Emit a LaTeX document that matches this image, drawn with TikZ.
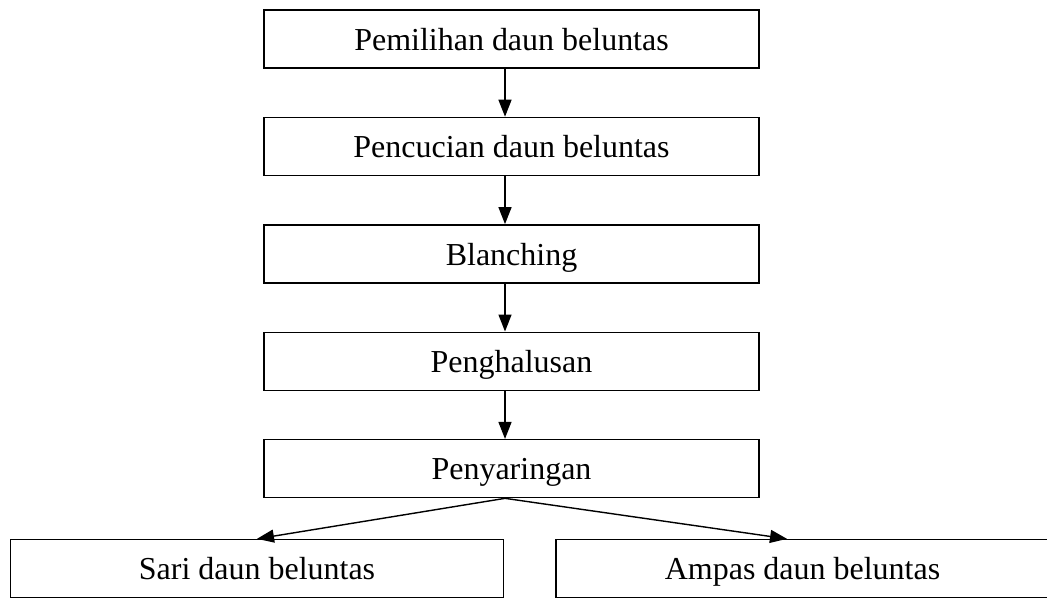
\documentclass[tikz,border=0pt]{standalone}
\usepackage{fontspec}
\setmainfont{Liberation Serif}
\usetikzlibrary{positioning,arrows.meta}

\begin{document}
\begin{tikzpicture}[
		every node/.append style={draw, line width=0.8pt, minimum width=9.9cm, minimum height=1.16cm, text height=12.8pt, text depth=0pt, font=\fontsize{18.2}{21}\selectfont}
		,arr/.style={line width=0.8pt, -{Triangle[length=3.4mm,width=2.6mm]}}
		,node distance=0.96cm
	]
		\clip (0,0) rectangle (20.94,-11.94);
		\node (A) at (10.23,-0.78) {Pemilihan daun beluntas};
		\node [below=of A] (B) {Pencucian daun beluntas};
		\node [below=of B] (C) {Blanching};
		\node [below=of C] (D) {Penghalusan};
		\node [below=of D] (E) {Penyaringan};
		\node [below=0.81cm of E, xshift=-5.09cm, minimum width=9.86cm] (F) {Sari daun beluntas};
		\node [below=0.81cm of E, xshift=5.82cm, minimum width=9.86cm] (G) {Ampas daun beluntas};
		\draw [arr] ([xshift=-1.3mm]A.south) -- ([xshift=-1.3mm]B.north);
		\draw [arr] ([xshift=-1.3mm]B.south) -- ([xshift=-1.3mm]C.north);
		\draw [arr] ([xshift=-1.3mm]C.south) -- ([xshift=-1.3mm]D.north);
		\draw [arr] ([xshift=-1.3mm]D.south) -- ([xshift=-1.3mm]E.north);
		\draw [arr] ([xshift=-1.3mm]E.south) -- (F.north);
		\draw [arr] ([xshift=-1.3mm]E.south) -- ([xshift=-3.1mm]G.north);
	\end{tikzpicture}
\end{document}
